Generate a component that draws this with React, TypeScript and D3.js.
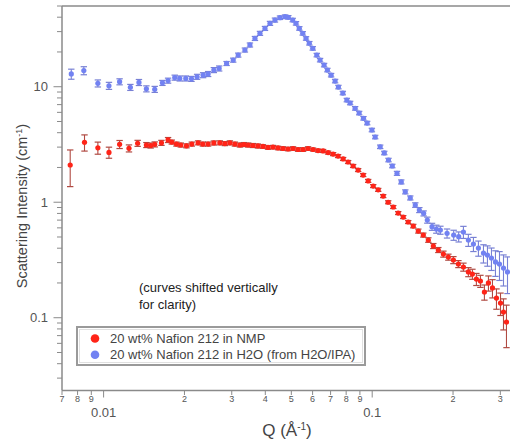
import React from "react";
import * as d3 from "d3";

// ---- Data ----
const qRed = [
  0.00751, 0.00849, 0.00952, 0.01047, 0.01147, 0.01243, 0.01339, 0.01443, 0.01497, 0.0155,
  0.01642, 0.01738, 0.01794, 0.01867, 0.01938, 0.02035, 0.0213, 0.02248, 0.02341, 0.0245,
  0.02573, 0.02709, 0.02828, 0.02952, 0.03082, 0.03218, 0.0333, 0.03455, 0.03597, 0.03755,
  0.03921, 0.04093, 0.04273, 0.04461, 0.04656, 0.04861, 0.05074, 0.05297, 0.05529, 0.05771,
  0.06025, 0.06289, 0.06565, 0.06853, 0.07154, 0.07467, 0.07795, 0.08137, 0.08494, 0.08867,
  0.09256, 0.09663, 0.1009, 0.1053, 0.1099, 0.1147, 0.1198, 0.125, 0.1305, 0.1362,
  0.1422, 0.1485, 0.155, 0.1618, 0.1689, 0.1763, 0.1841, 0.1921, 0.2006, 0.2094,
  0.2186, 0.2281, 0.2361, 0.2443, 0.2529, 0.2617, 0.2709, 0.2804, 0.2902, 0.3004,
  0.3082, 0.3162,
];
const iRed = [
  2.1, 3.3, 2.96, 2.7, 3.17, 2.93, 3.24, 3.13, 3.1, 3.17,
  3.27, 3.46, 3.32, 3.19, 3.13, 3.08, 3.19, 3.27, 3.19, 3.19,
  3.26, 3.27, 3.22, 3.27, 3.19, 3.13, 3.16, 3.13, 3.1, 3.07,
  3.04, 2.98, 3.0, 2.95, 2.92, 2.89, 2.92, 2.86, 2.86, 2.92,
  2.86, 2.8, 2.78, 2.69, 2.61, 2.51, 2.37, 2.23, 2.06, 1.9,
  1.72, 1.53, 1.38, 1.28, 1.13, 1.0, 0.909, 0.806, 0.744, 0.674,
  0.622, 0.563, 0.52, 0.471, 0.418, 0.386, 0.356, 0.335, 0.316, 0.292,
  0.275, 0.249, 0.239, 0.216, 0.208, 0.167, 0.2, 0.181, 0.148, 0.134,
  0.112, 0.0918,
];
const relErrRed = [
  0.35, 0.16, 0.12, 0.11, 0.08, 0.07, 0.06, 0.05, 0.05, 0.05,
  0.05, 0.05, 0.04, 0.04, 0.04, 0.04, 0.04, 0.04, 0.04, 0.04,
  0.04, 0.04, 0.04, 0.04, 0.04, 0.04, 0.04, 0.04, 0.04, 0.04,
  0.035, 0.035, 0.035, 0.035, 0.035, 0.035, 0.035, 0.035, 0.035, 0.035,
  0.03, 0.03, 0.03, 0.03, 0.03, 0.03, 0.03, 0.03, 0.03, 0.03,
  0.03, 0.03, 0.03, 0.03, 0.03, 0.03, 0.03, 0.03, 0.03, 0.03,
  0.035, 0.04, 0.04, 0.045, 0.05, 0.05, 0.06, 0.06, 0.07, 0.07,
  0.08, 0.09, 0.1, 0.12, 0.12, 0.15, 0.15, 0.18, 0.2, 0.22,
  0.3, 0.4,
];

const qBlue = [
  0.00758, 0.00844, 0.00952, 0.01047, 0.01147, 0.01258, 0.01354, 0.01443, 0.0155, 0.01656,
  0.01738, 0.0184, 0.01921, 0.02023, 0.02124, 0.02229, 0.02347, 0.0245, 0.02573, 0.02693,
  0.0287, 0.03038, 0.03171, 0.03358, 0.03506, 0.0366, 0.03821, 0.03989, 0.04164, 0.04345,
  0.04536, 0.04736, 0.04872, 0.05059, 0.05204, 0.05354, 0.05513, 0.05672, 0.05834, 0.06007,
  0.06218, 0.06397, 0.06621, 0.06811, 0.07031, 0.07277, 0.07486, 0.07775, 0.08046, 0.08277,
  0.08641, 0.08943, 0.0928, 0.09579, 0.09974, 0.1026, 0.1071, 0.1109, 0.115, 0.1188,
  0.1237, 0.1283, 0.1328, 0.1386, 0.1447, 0.1498, 0.1554, 0.1604, 0.167, 0.1733,
  0.1794, 0.19, 0.2011, 0.2099, 0.2186, 0.2281, 0.2382, 0.2486, 0.2596, 0.2686,
  0.278, 0.2877, 0.2978, 0.3082, 0.319,
];
const iBlue = [
  12.9, 13.8, 10.7, 10.2, 11.05, 9.88, 10.9, 9.6, 9.5, 10.8,
  11.3, 12.0, 11.8, 11.8, 11.7, 12.2, 12.6, 12.9, 13.95, 14.4,
  15.9, 17.0, 18.8, 20.8, 23.0, 26.2, 29.0, 32.0, 35.4, 37.8,
  39.6, 40.4, 39.9, 37.8, 35.4, 32.0, 29.0, 26.2, 23.8, 21.5,
  18.8, 17.0, 15.4, 13.95, 12.6, 11.2, 9.94, 8.82, 7.67, 7.23,
  6.5, 5.92, 5.33, 4.85, 4.22, 3.67, 3.02, 2.67, 2.32, 2.06,
  1.78, 1.5, 1.23, 1.09, 0.946, 0.856, 0.801, 0.701, 0.614, 0.586,
  0.574, 0.538, 0.52, 0.503, 0.552, 0.471, 0.435, 0.401, 0.363, 0.349,
  0.329, 0.304, 0.292, 0.269, 0.249,
];
const relErrBlue = [
  0.1, 0.08, 0.07, 0.07, 0.06, 0.06, 0.06, 0.06, 0.06, 0.05,
  0.05, 0.05, 0.05, 0.05, 0.05, 0.05, 0.05, 0.05, 0.05, 0.05,
  0.04, 0.04, 0.04, 0.04, 0.04, 0.04, 0.04, 0.04, 0.04, 0.04,
  0.035, 0.035, 0.035, 0.035, 0.035, 0.035, 0.035, 0.035, 0.035, 0.035,
  0.035, 0.035, 0.035, 0.035, 0.035, 0.035, 0.035, 0.035, 0.035, 0.035,
  0.035, 0.035, 0.035, 0.035, 0.035, 0.035, 0.035, 0.035, 0.035, 0.035,
  0.04, 0.04, 0.04, 0.04, 0.045, 0.05, 0.05, 0.06, 0.07, 0.08,
  0.08, 0.09, 0.1, 0.1, 0.12, 0.12, 0.14, 0.15, 0.18, 0.2,
  0.22, 0.25, 0.28, 0.3, 0.35,
];

const seriesNames = [
  "20 wt% Nafion 212 in NMP",
  "20 wt% Nafion 212 in H2O (from H2O/IPA)",
];
const annotationLines = ["(curves shifted vertically", "for clarity)"];
const xDomain = [0.007, 0.3287];
const yDomain = [0.02344, 50];

const FONT = "'Liberation Sans', Arial, Helvetica, sans-serif";

export default function App() {
  const W = 510;
  const H = 440;
  const L = 62, R = 511, T = 6, B = 390.5;
  const x = d3.scaleLog().domain(xDomain).range([L, R]);
  const y = d3.scaleLog().domain(yDomain).range([B, T]);

  const mant = (t: number) => Math.round(t / Math.pow(10, Math.floor(Math.log10(t) + 1e-9)));
  const xTicks = x.ticks().filter((t) => t >= xDomain[0] * 0.999 && t <= xDomain[1]);
  const yTicks = y.ticks().filter((t) => t >= yDomain[0] && t <= yDomain[1]);

  const axisColor = "#8a8a8a";
  const labelColor = "#555";

  const series = [
    { q: qBlue, I: iBlue, e: relErrBlue, fill: "#7282f2", err: "#7880d4" },
    { q: qRed, I: iRed, e: relErrRed, fill: "#ff2418", err: "#b04a42" },
  ];

  return (
    <svg
      width={W}
      height={H}
      style={{ position: "absolute", left: 0, top: 0, background: "#fff" }}
      fontFamily={FONT}
    >
      <rect x={0} y={0} width={W} height={H} fill="#fff" />
      {/* data */}
      {series.map((s, si) => (
        <g key={si}>
          {s.q.map((q, i) => {
            const cx = x(q);
            const v = s.I[i];
            const e = v * s.e[i];
            const y1 = y(v + e);
            const y2 = y(Math.max(v - e, 1e-4));
            return (
              <g key={i}>
                <line x1={cx} x2={cx} y1={y1} y2={y2} stroke={s.err} strokeWidth={1.1} />
                <line x1={cx - 3.2} x2={cx + 3.2} y1={y1} y2={y1} stroke={s.err} strokeWidth={1.2} />
                <line x1={cx - 3.2} x2={cx + 3.2} y1={y2} y2={y2} stroke={s.err} strokeWidth={1.2} />
              </g>
            );
          })}
          {s.q.map((q, i) => (
            <circle key={"c" + i} cx={x(q)} cy={y(s.I[i])} r={2.6} fill={s.fill} />
          ))}
        </g>
      ))}

      {/* frame */}
      <line x1={L} x2={R} y1={T} y2={T} stroke={axisColor} strokeWidth={1.5} />
      <line x1={L} x2={L} y1={T} y2={B} stroke={axisColor} strokeWidth={1.5} />
      <line x1={L} x2={R} y1={B} y2={B} stroke={axisColor} strokeWidth={1.5} />

      {/* x ticks */}
      {xTicks.map((t, i) => {
        const m = mant(t);
        const major = m === 1;
        const px = x(t);
        return (
          <g key={"xt" + i}>
            <line x1={px} x2={px} y1={B} y2={B + (major ? 7 : 4.5)} stroke={axisColor} strokeWidth={1} />
            {major ? (
              <text x={px} y={416.5} textAnchor="middle" fontSize={13} fill={labelColor}>
                {t >= 0.1 ? "0.1" : "0.01"}
              </text>
            ) : (
              <text x={px} y={402} textAnchor="middle" fontSize={9} fill={labelColor}>
                {m}
              </text>
            )}
          </g>
        );
      })}

      {/* y ticks */}
      {yTicks.map((t, i) => {
        const m = mant(t);
        const major = m === 1;
        const py = y(t);
        return (
          <g key={"yt" + i}>
            <line x1={L} x2={L - (major ? 8.5 : 5)} y1={py} y2={py} stroke={axisColor} strokeWidth={1} />
            {major && (
              <text x={48} y={py + 4.5} textAnchor="end" fontSize={13} fill={labelColor}>
                {t >= 10 ? "10" : t >= 1 ? "1" : "0.1"}
              </text>
            )}
          </g>
        );
      })}

      {/* axis titles */}
      <text x={287} y={436} textAnchor="middle" fontSize={17} fill="#444">
        Q (Å<tspan dy={-6} fontSize={10}>-1</tspan>
        <tspan dy={6}>)</tspan>
      </text>
      <text
        transform={`translate(26.5,206) rotate(-90)`}
        textAnchor="middle"
        fontSize={14.5}
        fill="#444"
      >
        Scattering Intensity (cm<tspan dy={-5} fontSize={9}>-1</tspan>
        <tspan dy={5}>)</tspan>
      </text>

      {/* annotation */}
      {annotationLines.map((s, i) => (
        <text key={"an" + i} x={139} y={291.5 + i * 17} fontSize={13} fill="#222">
          {s}
        </text>
      ))}

      {/* legend */}
      <rect x={77} y={327} width={288} height={38} fill="#fff" stroke="#9a9a9a" strokeWidth={2} />
      <rect x={79.5} y={329.5} width={283} height={33} fill="none" stroke="#e0e0e0" strokeWidth={1} />
      {seriesNames.map((name, i) => (
        <g key={"lg" + i}>
          <circle cx={95} cy={338.5 + i * 16.3} r={4.3} fill={i === 0 ? "#ff2418" : "#7282f2"} />
          <text x={110} y={343 + i * 16.3} fontSize={13} fill="#444">
            {name}
          </text>
        </g>
      ))}
    </svg>
  );
}
